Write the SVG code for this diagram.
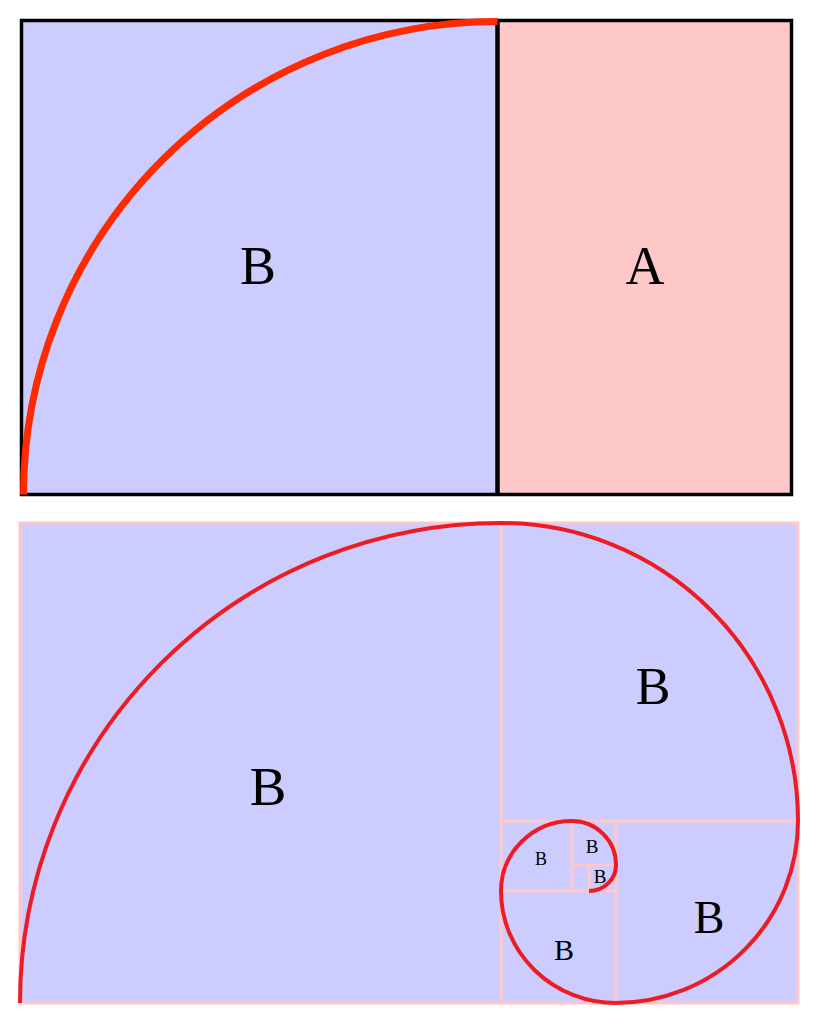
<svg xmlns="http://www.w3.org/2000/svg" width="816" height="1027" viewBox="0 0 816 1027">
<style>
.lbl{font-family:"Liberation Serif","Times New Roman",serif;fill:#000;text-anchor:middle}
.grid{stroke:#ffc8c8;stroke-width:3;fill:none}
</style>
<rect width="816" height="1027" fill="#fff"/>
<g id="top">
<g id="nodeB"><rect x="21.5" y="20.5" width="476" height="474" fill="#ccccff"/><text class="lbl" x="258" y="284" font-size="54">B</text></g>
<g id="nodeA"><rect x="497.5" y="20.5" width="294" height="474" fill="#ffc8c8"/><text class="lbl" x="645" y="284" font-size="54">A</text></g>
<g id="frame"><rect x="21.5" y="20.5" width="770" height="474" fill="none" stroke="#000" stroke-width="3.5"/><line x1="497.5" y1="20.5" x2="497.5" y2="494.5" stroke="#000" stroke-width="4.5"/></g>
<g id="arcTop"><path d="M23.5 494.5 A474 473 0 0 1 497.5 21.5" fill="none" stroke="#ff2a00" stroke-width="7"/></g>
</g>
<g id="bottom">
<g id="squares">
<rect x="20" y="523" width="778" height="480" class="grid" style="fill:#ccccff"/>
<path class="grid" d="M501 523V1003M501 821H798M616 821V1003M501 891H616M572 821V891M572 865H616M589 865V891"/>
</g>
<g id="labels">
<text class="lbl" x="268" y="805" font-size="55">B</text>
<text class="lbl" x="653" y="704" font-size="52">B</text>
<text class="lbl" x="709" y="933" font-size="46">B</text>
<text class="lbl" x="564" y="960" font-size="30">B</text>
<text class="lbl" x="541" y="865" font-size="18">B</text>
<text class="lbl" x="592" y="853" font-size="19">B</text>
<text class="lbl" x="600" y="883" font-size="19">B</text>
</g>
<g id="spiral"><path d="M20 1003 A481 480 0 0 1 501 523 A297 298 0 0 1 798 821 A182 182 0 0 1 616 1003 A115 112 0 0 1 501 891 A71 70 0 0 1 572 821 A44 44 0 0 1 616 865 A27 26 0 0 1 589 891" fill="none" stroke="#ed1c24" stroke-width="4"/></g>
</g>
</svg>
